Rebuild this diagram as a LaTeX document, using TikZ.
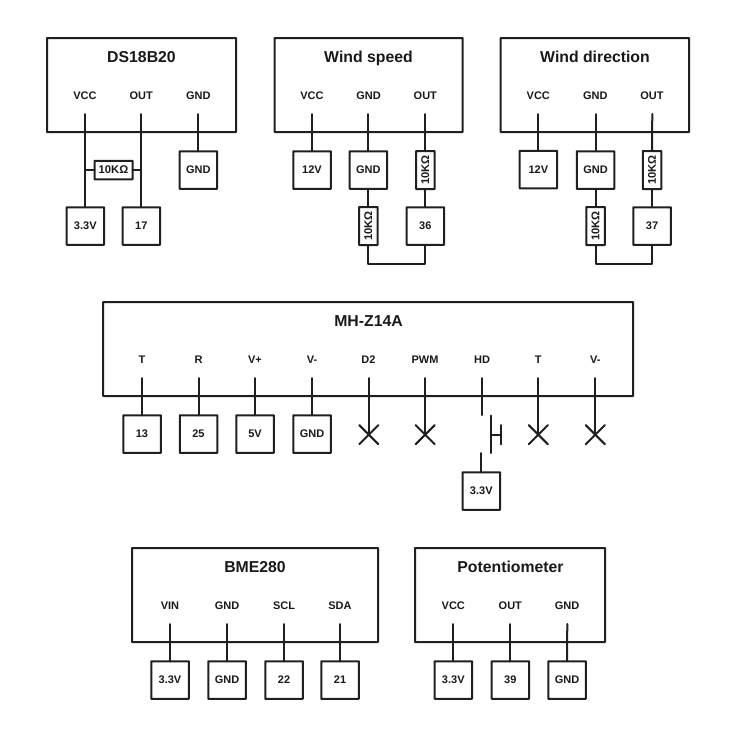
\documentclass[tikz,border=0pt]{standalone}
\usepackage{fontspec}
\setmainfont{Liberation Sans}
\tikzset{
  wire/.style={line width=2pt,line cap=round,line join=round,draw=black!88},
  module/.style={draw=black!88,line width=2pt,inner sep=0pt,outer sep=0pt,rounded corners=0.4pt},
  term/.style={module,minimum width=37.5pt,minimum height=37.5pt,font=\bfseries\fontsize{11}{12}\selectfont,text=black!90},
  res/.style={module,minimum width=38pt,minimum height=18.5pt,font=\bfseries\fontsize{11.2}{12}\selectfont,text=black!90},
  title/.style={font=\bfseries\fontsize{15.8}{18}\selectfont,text=black!90,inner sep=0pt,anchor=base},
  pinlabel/.style={font=\bfseries\fontsize{11}{12}\selectfont,text=black!90,inner sep=0pt,anchor=base}
}
\begin{document}
\begin{tikzpicture}[x=1pt,y=-1pt]
\useasboundingbox (0,0) rectangle (737,737);
% ---------- DS18B20
\node[module,minimum width=189pt,minimum height=94pt] (ds) at (141.5,85) {};
\node[title] (dst) at (141.5,62.7) {DS18B20};
\node[pinlabel] (dsa) at (85,99) {VCC};
\node[pinlabel] (dsb) at (141.3,99) {OUT};
\node[pinlabel] (dsc) at (198.3,99) {GND};
\coordinate (dsap) at (85.3,114);
\coordinate (dsbp) at (141.3,114);
\coordinate (dscp) at (198.3,114);
\node[term] (ds33) at (85.3,226) {3.3V};
\node[term] (ds17) at (141.3,226) {17};
\node[term] (dsg) at (198.3,170) {GND};
\node[res] (dsr) at (113.5,170) {10KΩ};
\draw[wire] (dsap) -- (ds33.north);
\draw[wire] (dsbp) -- (ds17.north);
\draw[wire] (dscp) -- (dsg.north);
\draw[wire] (dsr.west) -- (dsr.west -| dsap);
\draw[wire] (dsr.east) -- (dsr.east -| dsbp);
% ---------- Wind speed
\node[module,minimum width=188pt,minimum height=94pt] (ws) at (368.7,85) {};
\node[title] (wst) at (368.5,62.7) {Wind speed};
\node[pinlabel] (wsa) at (312,99) {VCC};
\node[pinlabel] (wsb) at (368.5,99) {GND};
\node[pinlabel] (wsc) at (425.3,99) {OUT};
\coordinate (wsap) at (312,114);
\coordinate (wsbp) at (368.3,114);
\coordinate (wscp) at (425.3,114);
\node[term] (ws12) at (312,170) {12V};
\node[term] (wsg) at (368.3,170) {GND};
\node[res,rotate=90] (wsr1) at (425.3,170) {10KΩ};
\node[res,rotate=90] (wsr2) at (368.3,226) {10KΩ};
\node[term] (ws36) at (425.3,226) {36};
\draw[wire] (wsap) -- (ws12.north);
\draw[wire] (wsbp) -- (wsg.north);
\draw[wire] (wscp) -- (wsr1.east);
\draw[wire] (wsg.south) -- (wsr2.east);
\draw[wire] (wsr1.west) -- (ws36.north);
\draw[wire] (wsr2.west) |- (425.3,264) -- (ws36.south);
% ---------- Wind direction
\node[module,minimum width=188.5pt,minimum height=94pt] (wd) at (594.8,85) {};
\node[title] (wdt) at (595,62.7) {Wind direction};
\node[pinlabel] (wda) at (538.3,99) {VCC};
\node[pinlabel] (wdb) at (595.3,99) {GND};
\node[pinlabel] (wdc) at (652,99) {OUT};
\coordinate (wdap) at (538.3,114);
\coordinate (wdbp) at (595.5,114);
\coordinate (wdcp) at (652.3,114);
\node[term] (wd12) at (538.3,169.5) {12V};
\node[term] (wdg) at (595.5,170) {GND};
\node[res,rotate=90] (wdr1) at (652,170) {10KΩ};
\node[res,rotate=90] (wdr2) at (595.5,226) {10KΩ};
\node[term] (wd37) at (652,226) {37};
\draw[wire] (wdap) -- (wd12.north);
\draw[wire] (wdbp) -- (wdg.north);
\draw[wire] (wdcp) -- (wdr1.east);
\draw[wire] (wdg.south) -- (wdr2.east);
\draw[wire] (wdr1.west) -- (wd37.north);
\draw[wire] (wdr2.west) |- (652,264) -- (wd37.south);
% ---------- MH-Z14A
\node[module,minimum width=530pt,minimum height=94pt] (mh) at (368.2,349) {};
\node[title] (mht) at (368.5,326.5) {MH-Z14A};
\node[pinlabel] (mha) at (142,363) {T};
\node[pinlabel] (mhb) at (198.5,363) {R};
\node[pinlabel] (mhc) at (255,363) {V+};
\node[pinlabel] (mhd) at (312,363) {V-};
\node[pinlabel] (mhe) at (368.5,363) {D2};
\node[pinlabel] (mhf) at (425,363) {PWM};
\node[pinlabel] (mhg) at (482,363) {HD};
\node[pinlabel] (mhh) at (538.3,363) {T};
\node[pinlabel] (mhi) at (595.3,363) {V-};
\coordinate (mhap) at (142,378);
\coordinate (mhbp) at (198.5,378);
\coordinate (mhcp) at (255,378);
\coordinate (mhdp) at (312,378);
\coordinate (mhep) at (368.8,378);
\coordinate (mhfp) at (425.2,378);
\coordinate (mhgp) at (482.3,378);
\coordinate (mhhp) at (538.3,378);
\coordinate (mhip) at (595.3,378);
\node[term] (mh13) at (142,434) {13};
\node[term] (mh25) at (198.5,434) {25};
\node[term] (mh5v) at (255,434) {5V};
\node[term] (mhg2) at (312,434) {GND};
\node[term] (mh33) at (481.3,491) {3.3V};
\coordinate (xe) at (368.8,434.7);
\coordinate (xf) at (425.2,434.7);
\coordinate (xh) at (538.3,434.7);
\coordinate (xi) at (595.3,434.7);
\draw[wire] (mhap) -- (mh13.north);
\draw[wire] (mhbp) -- (mh25.north);
\draw[wire] (mhcp) -- (mh5v.north);
\draw[wire] (mhdp) -- (mhg2.north);
\draw[wire] (mhep) -- (xe);
\draw[wire] (mhfp) -- (xf);
\draw[wire] (mhhp) -- (xh);
\draw[wire] (mhip) -- (xi);
\foreach \c in {xe,xf,xh,xi}{
  \draw[wire] ([shift={(-9.5,-9.5)}]\c) -- ([shift={(9.5,9.5)}]\c);
  \draw[wire] ([shift={(-9.5,9.5)}]\c) -- ([shift={(9.5,-9.5)}]\c);
}
% push-button in the HD line
\coordinate (hda) at (482.3,415);
\coordinate (hdb) at (481.3,453);
\coordinate (swt) at (491.3,415.7);
\coordinate (swb) at (491.3,453);
\coordinate (swm) at (491.3,434.7);
\coordinate (swh) at (501,434.7);
\draw[wire] (mhgp) -- (hda);
\draw[wire] (hdb) -- (mh33.north);
\draw[wire] (swt) -- (swb);
\draw[wire] (swm) -- (swh);
\draw[wire] ([yshift=-9.7pt]swh) -- ([yshift=9.7pt]swh);
% ---------- BME280
\node[module,minimum width=246pt,minimum height=94pt] (bm) at (255,595) {};
\node[title] (bmt) at (255,572.5) {BME280};
\node[pinlabel] (bma) at (170,609) {VIN};
\node[pinlabel] (bmb) at (227,609) {GND};
\node[pinlabel] (bmc) at (284,609) {SCL};
\node[pinlabel] (bmd) at (340,609) {SDA};
\coordinate (bmap) at (170,624);
\coordinate (bmbp) at (227,624);
\coordinate (bmcp) at (284,624);
\coordinate (bmdp) at (340,624);
\node[term] (bm33) at (170,680) {3.3V};
\node[term] (bmg) at (227,680) {GND};
\node[term] (bm22) at (284,680) {22};
\node[term] (bm21) at (340,680) {21};
\draw[wire] (bmap) -- (bm33.north);
\draw[wire] (bmbp) -- (bmg.north);
\draw[wire] (bmcp) -- (bm22.north);
\draw[wire] (bmdp) -- (bm21.north);
% ---------- Potentiometer
\node[module,minimum width=190pt,minimum height=94pt] (po) at (510,595) {};
\node[title] (pot) at (510.5,572.5) {Potentiometer};
\node[pinlabel] (poa) at (453.3,609) {VCC};
\node[pinlabel] (pob) at (510.3,609) {OUT};
\node[pinlabel] (poc) at (567,609) {GND};
\coordinate (poap) at (453.3,624);
\coordinate (pobp) at (510.3,624);
\coordinate (pocp) at (567.3,624);
\node[term] (po33) at (453.3,680) {3.3V};
\node[term] (po39) at (510.3,680) {39};
\node[term] (pog) at (567,680) {GND};
\draw[wire] (poap) -- (po33.north);
\draw[wire] (pobp) -- (po39.north);
\draw[wire] (pocp) -- (pog.north);
\end{tikzpicture}
\end{document}
